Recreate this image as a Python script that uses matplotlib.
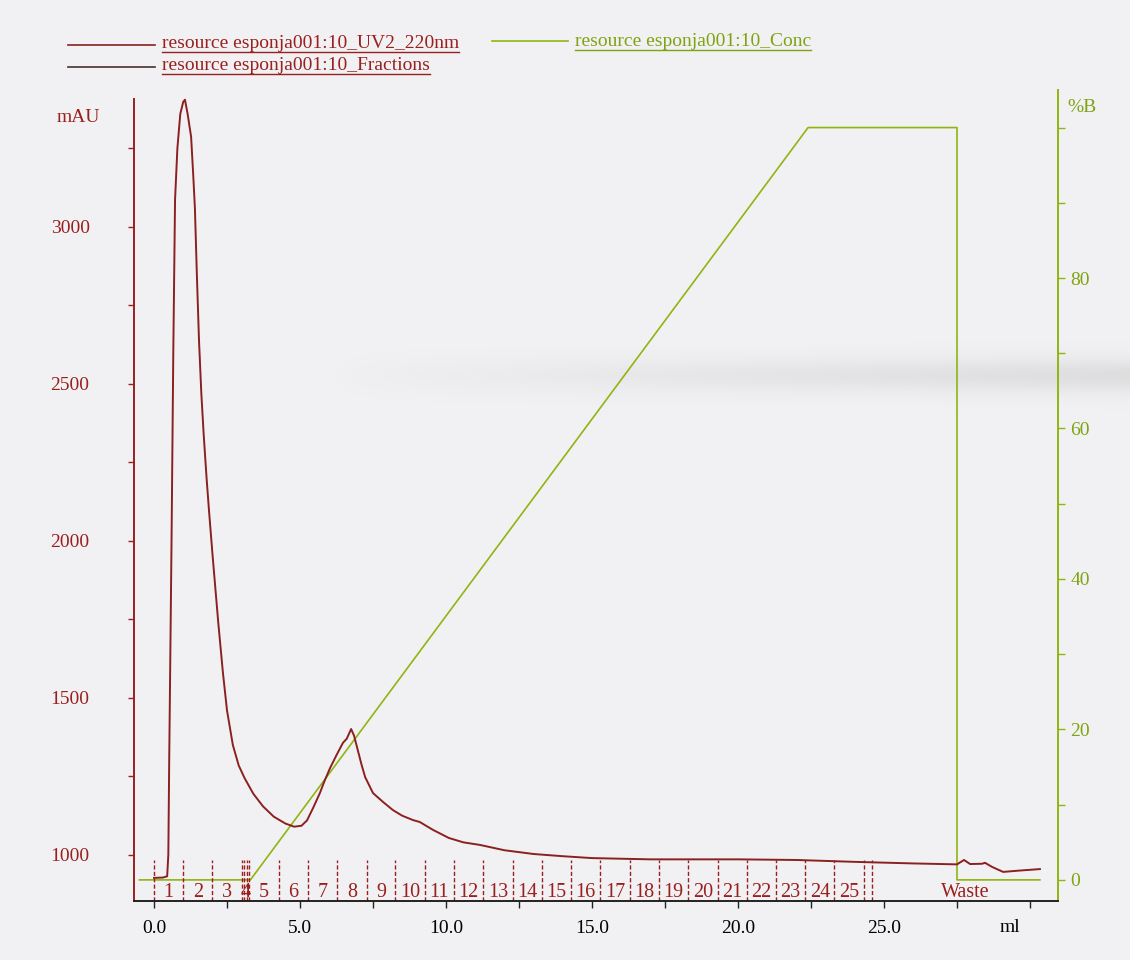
"""UV 220 nm chromatogram with %B gradient and fraction marks."""
import numpy as np
import matplotlib.pyplot as plt
from matplotlib.lines import Line2D
from matplotlib.ticker import FixedLocator
import matplotlib.transforms as mtransforms

plt.rcParams["font.family"] = ["Liberation Serif", "DejaVu Serif"]

RED = "#9a1f1f"
CURVE = "#8a2020"
GREEN = "#8fb511"
GREEN_TXT = "#7fa313"
BG = "#f1f1f3"

# UV2 220 nm trace (ml, mAU)
uv_ml = [0.0, 0.3, 0.45, 0.49, 0.52, 0.55, 0.6, 0.66, 0.72, 0.8, 0.9, 1.0,
         1.06, 1.15, 1.27, 1.34, 1.4, 1.47, 1.54, 1.62, 1.7, 1.8, 1.88, 2.0,
         2.1, 2.2, 2.36, 2.5, 2.7, 2.9, 3.1, 3.4, 3.73, 4.1, 4.5, 4.8, 5.05,
         5.24, 5.45, 5.68, 5.85, 6.03, 6.25, 6.47, 6.6, 6.75, 6.85, 6.95, 7.1,
         7.23, 7.5, 7.84, 8.18, 8.5, 8.87, 9.1, 9.55, 10.1, 10.6, 11.16, 12.0,
         13.0, 14.0, 15.0, 17.0, 20.0, 22.0, 24.0, 26.0, 27.5, 27.74, 27.95,
         28.36, 28.46, 28.7, 29.08, 29.6, 30.34]
uv_mau = [927, 928, 932, 1000, 1300, 1560, 2000, 2600, 3086, 3250, 3360, 3398,
          3405, 3360, 3287, 3170, 3060, 2840, 2640, 2470, 2340, 2200, 2100, 1960,
          1850, 1740, 1580, 1460, 1350, 1285, 1245, 1195, 1155, 1122, 1100, 1090,
          1093, 1110, 1150, 1197, 1238, 1277, 1318, 1357, 1370, 1401, 1380, 1344,
          1290, 1248, 1197, 1169, 1143, 1125, 1111, 1105, 1080, 1054, 1040, 1032,
          1015, 1003, 996, 990, 986, 986, 984, 978, 973, 970, 984, 971,
          972, 975, 962, 946, 950, 955]

# Conc %B gradient (ml, %B)
conc_ml = [-0.5, 3.3, 22.4, 27.5, 27.5, 30.34]
conc_pct = [0, 0, 100, 100, 0, 0]

# fraction boundaries (ml) and labels
frac_marks = [0.0, 1.0, 2.0, 3.0, 3.08, 3.17, 3.25, 4.28, 5.28, 6.27, 7.28,
              8.27, 9.28, 10.27, 11.28, 12.28, 13.28, 14.27, 15.27, 16.3, 17.3,
              18.3, 19.3, 20.3, 21.3, 22.3, 23.3, 24.3, 24.58]
frac_start = [0.0, 1.0, 2.0, 3.0, 3.25, 4.28, 5.28, 6.27, 7.28, 8.27, 9.28,
              10.27, 11.28, 12.28, 13.28, 14.27, 15.27, 16.3, 17.3, 18.3, 19.3,
              20.3, 21.3, 22.3, 23.3]
frac_end = frac_start[1:] + [24.3]
frac_labels = [str(i) for i in range(1, 26)]
waste_ml = 27.8

x_major = [0, 5, 10, 15, 20, 25]
x_labels = ["0.0", "5.0", "10.0", "15.0", "20.0", "25.0"]
mau_major = [1000, 1500, 2000, 2500, 3000]
mau_minor = [1250, 1750, 2250, 2750, 3250]
pct_major = [0, 20, 40, 60, 80]
pct_minor = [10, 30, 50, 70, 90, 100]

fig = plt.figure(figsize=(11.3, 9.6), dpi=100, facecolor=BG)

# faint crease across the sheet
bg = fig.add_axes([0, 0, 1, 1], zorder=-10)
bg.axis("off")
yy, xx = np.mgrid[0:960, 0:1130]
crease = np.exp(-((yy - 375) / 17.0) ** 2) * np.clip((xx - 330) / 800, 0, 1) ** 0.8
shade = np.zeros((960, 1130, 4))
shade[..., :3] = 0.6
shade[..., 3] = crease * 0.22
bg.imshow(shade, extent=[0, 1130, 960, 0], aspect="auto", interpolation="bilinear")
bg.set_xlim(0, 1130)
bg.set_ylim(960, 0)

ax = fig.add_axes([0.1186, 0.0615, 0.8177, 0.8448])
ax2 = ax.twinx()
ax.set_zorder(ax2.get_zorder() + 1)
ax.patch.set_visible(False)
ax2.patch.set_visible(False)

ax.set_xlim(-0.685, 30.96)
ax.set_ylim(853.5, 3436)
ax2.set_ylim(-2.8, 105)

ax.plot(uv_ml, uv_mau, color=CURVE, lw=1.4, solid_joinstyle="round")
ax2.plot(conc_ml, conc_pct, color=GREEN, lw=1.2)

# fraction marks along the bottom
trans = mtransforms.blended_transform_factory(ax.transData, ax.transAxes)
for m in frac_marks:
    ax.plot([m, m], [0, 0.05], transform=trans, color=RED, lw=1.0,
            ls=(0, (3, 1.6)), clip_on=False)
for s, e, lab in zip(frac_start, frac_end, frac_labels):
    ax.text((s + e) / 2, 0.005, lab, transform=trans, ha="center",
            va="baseline", fontsize=14.5, color=RED)
ax.text(waste_ml, 0.005, "Waste", transform=trans, ha="center",
        va="baseline", fontsize=14.5, color=RED)

# spines
for a in (ax, ax2):
    a.spines["top"].set_visible(False)
ax.spines["right"].set_visible(False)
ax2.spines["left"].set_visible(False)
ax2.spines["bottom"].set_visible(False)
ax.spines["left"].set_color(RED)
ax.spines["left"].set_bounds(853.5, 3408)
ax.spines["bottom"].set_color("#222222")
ax2.spines["right"].set_color(GREEN)
ax.spines["left"].set_linewidth(1.4)
ax.spines["bottom"].set_linewidth(1.4)
ax2.spines["right"].set_linewidth(1.4)

ax.xaxis.set_major_locator(FixedLocator(x_major))
ax.set_xticklabels(x_labels)
ax.xaxis.set_minor_locator(FixedLocator([2.5, 7.5, 12.5, 17.5, 22.5, 27.5, 30]))
ax.tick_params(axis="x", which="both", direction="out", length=5, width=1,
               color="#222222", labelsize=14, pad=9)
ax.text(29.3, -0.022, "ml", transform=trans, ha="center", va="top", fontsize=14)

ax.yaxis.set_major_locator(FixedLocator(mau_major))
ax.yaxis.set_minor_locator(FixedLocator(mau_minor))
ax.tick_params(axis="y", which="both", direction="out", length=4, width=1,
               color=RED, labelcolor=RED, labelsize=14, pad=28)

ax2.yaxis.set_major_locator(FixedLocator(pct_major))
ax2.yaxis.set_minor_locator(FixedLocator(pct_minor))
ax2.tick_params(axis="y", which="both", direction="out", length=5, width=1,
                color=GREEN, labelcolor=GREEN_TXT, labelsize=14, pad=4)

fig.text(78 / 1130, 1 - 117 / 960, "mAU", ha="center", va="center",
         fontsize=14, color=RED)
fig.text(1082 / 1130, 1 - 108 / 960, "%B", ha="center", va="center",
         fontsize=14, color=GREEN_TXT)

# legend block at the top
legend_rows = [
    (68, 155, 45, 162, 48, "resource esponja001:10_UV2_220nm", CURVE, RED),
    (68, 155, 67, 162, 70, "resource esponja001:10_Fractions", "#4a2f2f", RED),
    (492, 568, 41, 575, 46, "resource esponja001:10_Conc", GREEN, GREEN_TXT),
]
fig.canvas.draw()
renderer = fig.canvas.get_renderer()
for x0, x1, ly, tx, ty, label, lc, tc in legend_rows:
    fig.add_artist(Line2D([x0 / 1130, x1 / 1130], [1 - ly / 960, 1 - ly / 960],
                          transform=fig.transFigure, color=lc, lw=1.2))
    t = fig.text(tx / 1130, 1 - ty / 960, label, ha="left", va="baseline",
                 fontsize=14, color=tc)
    bb = t.get_window_extent(renderer)
    uy = 1 - (ty + 4) / 960
    fig.add_artist(Line2D([bb.x0 / 1130, bb.x1 / 1130], [uy, uy],
                          transform=fig.transFigure, color=tc, lw=1.0))

fig.savefig("out.png", dpi=100, facecolor=BG)
